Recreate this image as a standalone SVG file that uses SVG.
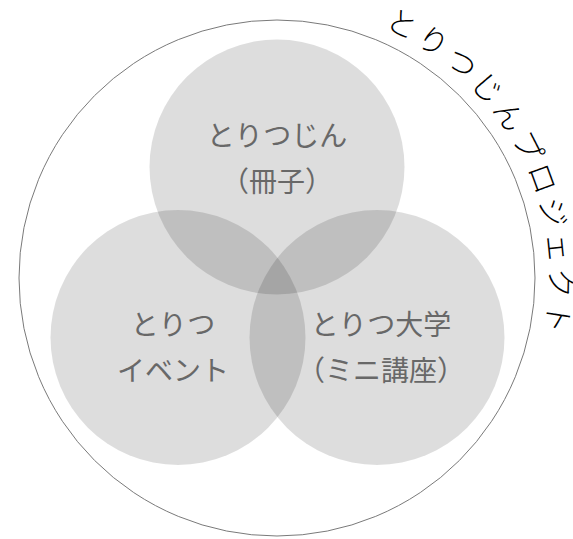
<svg xmlns="http://www.w3.org/2000/svg" xmlns:xlink="http://www.w3.org/1999/xlink" width="573" height="539" viewBox="0 0 573 539">
<style>
.set{fill:#000;fill-opacity:0.133}
.lbl{font-family:"Noto Sans CJK JP","Noto Sans CJK SC",sans-serif;font-size:28px;fill:#686868;text-anchor:middle}
.title{font-family:"Noto Sans CJK JP","Noto Sans CJK SC",sans-serif;font-size:30px;font-weight:300;fill:#000;letter-spacing:4.2px}
.outer{fill:none;stroke:#7a7a7a;stroke-width:1}
</style>
<defs>
<path id="arc" d="M383.7,27.2 A272.6,272.6 0 0 1 513.1,414.3"/>
</defs>
<rect width="573" height="539" fill="#fff"/>
<g id="project">
<circle class="outer" cx="277" cy="278" r="258"/>
<text class="title"><textPath href="#arc" xlink:href="#arc">とりつじんプロジェクト</textPath></text>
</g>
<g id="booklet">
<circle class="set" cx="277" cy="167" r="127.5"/>
<text class="lbl"><tspan x="277" y="146">とりつじん</tspan><tspan x="277" y="192">（冊子）</tspan></text>
</g>
<g id="event">
<circle class="set" cx="178" cy="337.5" r="127.5"/>
<text class="lbl"><tspan x="173" y="335">とりつ</tspan><tspan x="173" y="381">イベント</tspan></text>
</g>
<g id="university">
<circle class="set" cx="377" cy="337.5" r="127.5"/>
<text class="lbl"><tspan x="381" y="335">とりつ大学</tspan><tspan x="381" y="381">（ミニ講座）</tspan></text>
</g>
</svg>
